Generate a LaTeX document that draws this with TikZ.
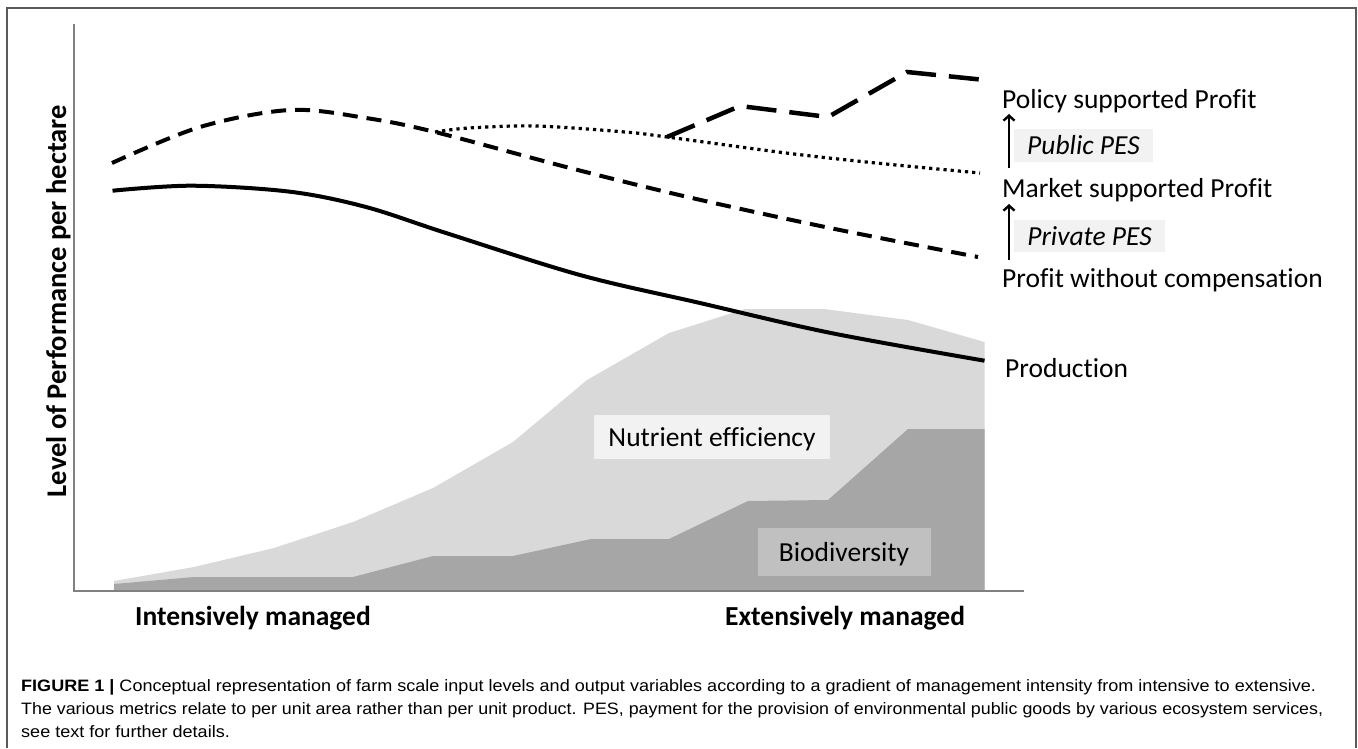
\documentclass[tikz,border=0pt]{standalone}
\usepackage{fontspec}
\setmainfont[Ligatures=NoCommon]{Carlito}
\newfontfamily\capfont{Liberation Sans}
\usetikzlibrary{arrows.meta}
\definecolor{lightfill}{HTML}{D9D9D9}
\definecolor{darkfill}{HTML}{A6A6A6}
\definecolor{boxlight}{HTML}{F2F2F2}
\definecolor{boxmid}{HTML}{C0C0C0}
\definecolor{axisgray}{HTML}{808080}
\definecolor{framegray}{HTML}{5A5A5A}
\definecolor{captext}{HTML}{303030}
\newsavebox\capboxA
\newsavebox\capboxB
\newsavebox\capboxC
\begin{document}
\sbox\capboxA{\fontsize{16.5}{19}\capfont\textbf{FIGURE 1 |} Conceptual representation of farm scale input levels and output variables according to a gradient of management intensity from intensive to extensive.}%
\sbox\capboxB{\fontsize{16.5}{19}\capfont The various metrics relate to per unit area rather than per unit product. PES, payment for the provision of environmental public goods by various ecosystem services,}%
\sbox\capboxC{\fontsize{16.5}{19}\capfont see text for further details.}%
\pgfmathsetmacro\capsc{1295/\the\wd\capboxA}%
\pgfmathsetmacro\capscB{1302/\the\wd\capboxB}%
\begin{tikzpicture}[x=1pt,y=-1pt,
  lbl/.style={font=\fontsize{27.5}{30}\selectfont, inner sep=0pt, anchor=base west},
  boxlbl/.style={font=\fontsize{27.5}{30}\selectfont, inner sep=0pt, text height=18pt, text depth=0pt},
  axlbl/.style={font=\fontsize{27.5}{30}\selectfont\bfseries, inner sep=0pt, anchor=base west},
  capline/.style={inner sep=0pt, anchor=base west, text=captext},
  arr/.style={line width=2.4pt, -{Straight Barb[length=5pt,width=11pt]}},
  axisline/.style={draw=axisgray, line width=2pt},
  curve/.style={line width=4pt},
  profitdash/.style={curve, dash pattern=on 15pt off 9pt},
  policydash/.style={line width=4.5pt, dash pattern=on 30pt off 13pt},
  marketdot/.style={line width=3.2pt, dash pattern=on 3.2pt off 4pt}]
\useasboundingbox (0,0) rectangle (1358,748);
% frame (open at the bottom)
\draw[framegray, line width=1.8pt] (7,748) -- (7,8) -- (1356,8) -- (1356,748);

% area fills
\fill[lightfill] (114,591) -- (114,581) -- (194,567) -- (274,548) -- (353,522) -- (433,488)
  -- (513,442) -- (587,380) -- (669,333) -- (745,309) -- (824,309) -- (908,320)
  -- (984.5,342) -- (984.5,591) -- cycle;
\fill[darkfill] (114,591) -- (114,584) -- (194,577) -- (353,577) -- (433,556) -- (513,556)
  -- (591,539) -- (669,539) -- (748,501) -- (828,500) -- (908,429) -- (984.5,429)
  -- (984.5,591) -- cycle;

% axes
\coordinate (ytop) at (74,24);
\coordinate (orig) at (74,591);
\coordinate (xend) at (1024,591);
\draw[axisline] (ytop) -- (orig) -- (xend);

% label boxes in the areas
\node[boxlbl, fill=boxlight, minimum width=236pt, minimum height=44pt] (nutr) at (712,437) {Nutrient efficiency};
\node[boxlbl, fill=boxmid, minimum width=173pt, minimum height=48pt] (bio) at (844,552) {Biodiversity};

% production
\draw[curve] plot[smooth, tension=0.55] coordinates {(112.5,190.7) (192,185.7) (290,191.7) (366,207) (446,233) (580,275) (700,303) (831,333) (984.5,360.7)};
% profit without compensation
\draw[profitdash] plot[smooth, tension=0.55] coordinates {(112,163) (200,127) (290,110) (366,118) (435,132) (570,168) (692,198) (830,228) (978,257)};
% market supported profit
\draw[marketdot] plot[smooth, tension=0.55] coordinates {(435,132) (469,128) (536,126) (625,132) (667,137) (786,153) (876,163) (980,173)};
% policy supported profit
\draw[policydash] (667,137) -- (740,106) -- (828,117) -- (907,72) -- (985,80);

% right-hand labels
\node[lbl] (policy) at (1002,108) {Policy supported Profit};
\node[lbl] (market) at (1002,197) {Market supported Profit};
\node[lbl] (nocomp) at (1002,287) {Profit without compensation};
\node[lbl] (prod) at (1005,377) {Production};

\node[boxlbl, fill=boxlight, minimum width=139pt, minimum height=33pt, font=\fontsize{27.5}{30}\selectfont\itshape] (pub) at (1083.5,145.5) {Public PES};
\node[boxlbl, fill=boxlight, minimum width=151pt, minimum height=32pt, font=\fontsize{27.5}{30}\selectfont\itshape] (priv) at (1089.5,236) {Private PES};

\coordinate (pubS) at (1009,168);
\coordinate (pubE) at (1009,114);
\coordinate (privS) at (1009,260);
\coordinate (privE) at (1009,204);
\draw[arr] (pubS) -- (pubE);
\draw[arr] (privS) -- (privE);

% axis labels
\node[font=\fontsize{28.5}{31}\selectfont\bfseries, inner sep=0pt, anchor=base, rotate=90] (ylabel) at (66,301) {Level of Performance per hectare};
\node[axlbl] (xl) at (135,625) {Intensively managed};
\node[axlbl] (xr) at (725,625) {Extensively managed};

% caption
\node[capline] (cap1) at (21,691) {\scalebox{\capsc}[1]{\usebox\capboxA}};
\node[capline] (cap2) at (21,714) {\scalebox{\capscB}[1]{\usebox\capboxB}};
\node[capline] (cap3) at (21,737) {\scalebox{\capsc}[1]{\usebox\capboxC}};
\end{tikzpicture}
\end{document}
